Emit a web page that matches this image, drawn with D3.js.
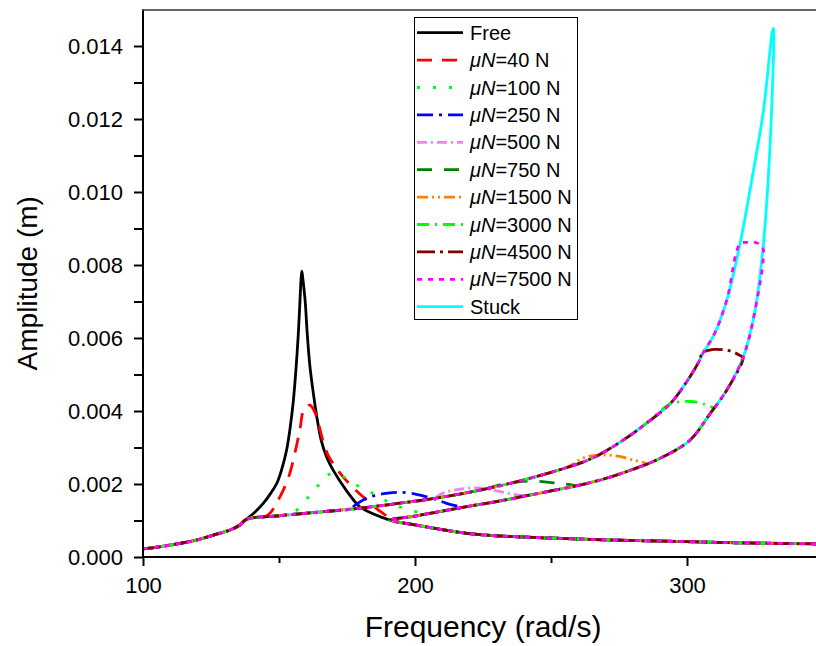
<!DOCTYPE html>
<html>
<head>
<meta charset="utf-8">
<script src="https://cdn.jsdelivr.net/npm/d3@7"></script>
<style>
body { margin: 0; background: #fff; }
svg { display: block; font-family: "Liberation Sans", Arial, sans-serif; }
</style>
</head>
<body>
<svg id="chart" width="816" height="646"></svg>
<script>
// ---- data: [frequency (rad/s), amplitude (m)] ----
// low frequency part shared by every case
let lowBranch = [[100,0.00022],[106,0.00028],[113.6,0.00037],[120,0.00047],[125.9,0.0006],[132,0.00074],[135.5,0.00087],[138,0.00103]];
// free resonance
let freeBranch = [[141,0.00122],[144.2,0.00147],[147,0.00175],[149.2,0.00202],[151,0.0024],[152.8,0.00293],[154.2,0.0036],[155.3,0.0043],[156.3,0.0052],[157.1,0.00612],[157.7,0.007],[158.1,0.0076],[158.4,0.00783],[158.8,0.0076],[159.6,0.00703],[160.4,0.0061],[161.4,0.0052],[162.6,0.0045],[163.9,0.00384],[165.5,0.0032],[167.5,0.00274],[169.9,0.00238],[175,0.0018],[179.8,0.00137],[185,0.00117]];
// stuck branch going up to the peak
let upperBranch = [[150,0.00113],[169,0.00126],[180,0.00134],[195,0.00148],[210,0.00164],[230,0.00193],[250,0.00232],[265,0.0027],[276.5,0.0032],[285,0.00366],[293.8,0.0042],[298.6,0.00466],[304,0.0053],[306,0.0056],[310,0.0061],[314.6,0.00703],[319.5,0.00858],[324.4,0.01058],[328.1,0.01222],[330.5,0.01386],[331.4,0.0144],[331.8,0.01448]];
// stuck branch coming back down from the peak
let lowerBranch = [[331.9,0.0142],[331.1,0.01222],[329.9,0.0104],[328.1,0.00858],[325,0.00675],[320.7,0.00548],[314.6,0.00457],[308.5,0.00393],[301.1,0.0032],[290,0.0027],[280,0.0024],[270,0.00215],[260,0.00196],[250,0.00181],[241,0.00168],[230,0.00152],[219,0.00138],[210,0.00126],[200,0.00112]];
// high frequency tail shared by every case
let tailBranch = [[190.8,0.00101],[195,0.00094],[200,0.00088],[210,0.00075],[219,0.00065],[230,0.00058],[249.6,0.00052],[270,0.00047],[300,0.00042],[325,0.00038],[352,0.00036]];

// friction humps (leave upper branch, land on lower branch)
let hump40 = [[144.5,0.0011],[146.7,0.0012],[150,0.0016],[152,0.0019],[154,0.0023],[156,0.0029],[157.7,0.0035],[158.9,0.004],[160.2,0.00413],[161.4,0.00416],[163,0.004],[164.7,0.0036],[166.3,0.00315],[168,0.0028],[170,0.00255],[173.5,0.0022],[178,0.00185],[182.3,0.00156],[186,0.00132],[189.5,0.00112]];
let hump100 = [[152.5,0.00114],[155.1,0.0012],[158.3,0.00142],[161.4,0.0017],[163.8,0.0019],[166.9,0.0022],[170,0.00229],[172.5,0.00225],[174.9,0.00215],[178.5,0.00197],[183,0.0018],[187.1,0.00165],[190.8,0.00147],[194.5,0.00137],[198.2,0.00128],[202,0.00122],[205,0.00119]];
let hump250 = [[176,0.00131],[178,0.00142],[182,0.0016],[185.9,0.0017],[190,0.00175],[193.3,0.00177],[198.2,0.00175],[204.3,0.00165],[208,0.00157],[211.6,0.00147],[217,0.00135]];
let hump500 = [[207,0.00161],[210.3,0.00175],[216.5,0.00186],[223.9,0.00189],[231.3,0.00179],[237.4,0.0017],[240.5,0.00166]];
let hump750 = [[226,0.00187],[232,0.00199],[238,0.00206],[244,0.00208],[250,0.00204],[255,0.002],[259,0.00195]];
let hump1500 = [[257,0.0025],[262,0.00272],[268,0.00279],[274,0.00277],[280,0.00266],[285,0.00255]];
let hump3000 = [[293.8,0.0042],[297,0.00425],[301,0.00426],[305,0.00422],[308,0.00413],[310,0.00408]];
let hump4500 = [[305.9,0.0056],[309,0.00568],[313,0.00568],[316.5,0.00563],[319.5,0.00552],[320.6,0.00546]];
let hump7500 = [[319.5,0.00858],[322,0.00862],[324.5,0.00863],[326.5,0.00858],[327.9,0.00848]];

let frictionForces = ['40', '100', '250', '500', '750', '1500', '3000', '4500', '7500'];
let frictionHumps = [hump40, hump100, hump250, hump500, hump750, hump1500, hump3000, hump4500, hump7500];

let xMajorTicks = [100, 200, 300];
let xMinorTicks = [150, 250, 350];
let yTicks = [0, 0.001, 0.002, 0.003, 0.004, 0.005, 0.006, 0.007, 0.008, 0.009, 0.010, 0.011, 0.012, 0.013, 0.014];

// styles
let frictionColors = ['#ff0000', '#00ff00', '#0000ff', '#ee82ee', '#008000', '#ff8000', '#00ff00', '#800000', '#ff00ff'];
let frictionDash = ['15,10', '3,13', '16,6,3,6', '10,4,2,4', '15,12', '11,4,2,4,2,4', '12,6,2,6', '18,5,3,5', '5,6'];

// ---- layout ----
let svg = d3.select('#chart');
let plotLeft = 143, plotRight = 823, plotTop = 9.5, plotBottom = 557;

let x = d3.scaleLinear().domain([100, 350]).range([plotLeft, plotRight]);
let y = d3.scaleLinear().domain([0, 0.015]).range([plotBottom, plotTop]);

let line = d3.line()
    .x(d => x(d[0]))
    .y(d => y(d[1]))
    .curve(d3.curveCatmullRom.alpha(0.5));

//build a full friction curve out of the shared branches
function frictionPath(hump) {
    let first = hump[0][0];
    let last = hump[hump.length - 1][0];
    return lowBranch
        .concat(upperBranch.filter(d => d[0] < first))
        .concat(hump)
        .concat(lowerBranch.filter(d => d[0] < last))
        .concat(tailBranch);
}

let series = [];
series.push({ pts: lowBranch.concat(freeBranch, tailBranch), color: '#000000', dash: null });
series.push({ pts: lowBranch.concat(upperBranch, lowerBranch, tailBranch), color: '#00ffff', dash: null });
frictionHumps.forEach((h, i) => {
    series.push({ pts: frictionPath(h), color: frictionColors[i], dash: frictionDash[i] });
});

svg.append('clipPath').attr('id', 'plotClip')
    .append('rect').attr('x', plotLeft).attr('y', 0).attr('width', plotRight - plotLeft).attr('height', plotBottom);

svg.append('g').attr('clip-path', 'url(#plotClip)')
    .selectAll('path')
    .data(series)
    .join('path')
    .attr('d', d => line(d.pts))
    .attr('fill', 'none')
    .attr('stroke', d => d.color)
    .attr('stroke-width', 2.8)
    .attr('stroke-dasharray', d => d.dash)
    .attr('stroke-linejoin', 'round');

// ---- axes ----
let yAxis = svg.append('g')
    .attr('transform', 'translate(' + plotLeft + ',0)')
    .call(d3.axisLeft(y).tickValues(yTicks).tickSize(9).tickSizeOuter(0).tickPadding(11)
        .tickFormat(d => (Math.round(d * 1000) % 2 === 0) ? d3.format('.3f')(d) : ''));
yAxis.select('.domain').attr('stroke-width', 2).attr('d', 'M0,' + plotTop + 'V' + plotBottom);

let xAxis = svg.append('g')
    .attr('transform', 'translate(0,' + plotBottom + ')')
    .call(d3.axisBottom(x).tickValues(xMajorTicks.concat(xMinorTicks)).tickSize(9).tickSizeOuter(0).tickPadding(11)
        .tickFormat(d => xMajorTicks.includes(d) ? d : ''));
xAxis.select('.domain').attr('stroke-width', 2).attr('d', 'M' + plotLeft + ',0H816');
xAxis.selectAll('.tick').filter(d => xMinorTicks.includes(d)).select('line').attr('y2', 6);

svg.selectAll('.tick line').attr('stroke-width', 2);
svg.selectAll('.tick text').attr('font-size', 22).attr('fill', '#000')
    .attr('font-family', '"Liberation Sans", Arial, sans-serif');

// top frame line
svg.append('line')
    .attr('x1', plotLeft - 1).attr('x2', 816)
    .attr('y1', plotTop + 0.5).attr('y2', plotTop + 0.5)
    .attr('stroke', '#333').attr('stroke-width', 1.5);

// axis titles
svg.append('text')
    .attr('x', (plotLeft + plotRight) / 2).attr('y', 637)
    .attr('text-anchor', 'middle').attr('font-size', 30)
    .text('Frequency (rad/s)');

svg.append('text')
    .attr('transform', 'translate(37,' + ((plotTop + plotBottom) / 2) + ') rotate(-90)')
    .attr('text-anchor', 'middle').attr('font-size', 28)
    .text('Amplitude (m)');

// ---- legend ----
let legendItems = [{ name: 'Free', color: '#000000', dash: null }];
frictionForces.forEach((f, i) => legendItems.push({ force: f, color: frictionColors[i], dash: frictionDash[i] }));
legendItems.push({ name: 'Stuck', color: '#00ffff', dash: null });

let legend = svg.append('g');
legend.append('rect')
    .attr('x', 414.5).attr('y', 17.5).attr('width', 163).attr('height', 302)
    .attr('fill', '#fff').attr('stroke', '#000').attr('stroke-width', 1);

let rows = legend.selectAll('g.row')
    .data(legendItems)
    .join('g')
    .attr('class', 'row')
    .attr('transform', (d, i) => 'translate(0,' + (32.7 + i * 27.4) + ')');

rows.append('line')
    .attr('x1', 417).attr('x2', 463)
    .attr('stroke', d => d.color)
    .attr('stroke-width', 2.8)
    .attr('stroke-dasharray', d => d.dash);

let labels = rows.append('text')
    .attr('x', 470).attr('y', 7)
    .attr('font-size', 20);
labels.filter(d => d.name).text(d => d.name);
labels.filter(d => d.force).each(function (d) {
    let t = d3.select(this);
    t.append('tspan').attr('font-style', 'italic').text('\u03bcN');
    t.append('tspan').text('=' + d.force + ' N');
});
</script>
</body>
</html>
